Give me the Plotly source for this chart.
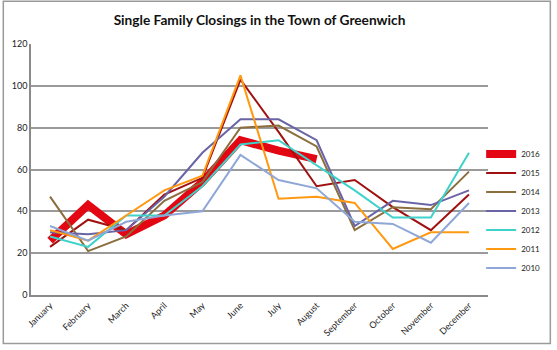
import plotly.graph_objects as go

months = ["January", "February", "March", "April", "May", "June", "July",
          "August", "September", "October", "November", "December"]

y2016 = [26, 43, 29, 38, 54, 74, 69, 65]
y2015 = [23, 36, 31, 48, 56, 103, 78, 52, 55, 42, 31, 48]
y2014 = [47, 21, 28, 45, 54, 80, 81, 71, 31, 42, 41, 59]
y2013 = [30, 29, 31, 47, 68, 84, 84, 74, 33, 45, 43, 50]
y2012 = [28, 23, 38, 38, 52, 72, 74, 62, 50, 37, 37, 68]
y2011 = [31, 26, 38, 50, 57, 105, 46, 47, 44, 22, 30, 30]
y2010 = [33, 26, 35, 38, 40, 67, 55, 51, 35, 34, 25, 44]

series = [
    ("2016", y2016, "#E30613", 8),
    ("2015", y2015, "#A01010", 2),
    ("2014", y2014, "#8C6E3C", 2),
    ("2013", y2013, "#6964A6", 2),
    ("2012", y2012, "#3ED2CB", 2),
    ("2011", y2011, "#FF9912", 2),
    ("2010", y2010, "#8FA7D6", 2),
]

fig = go.Figure()
for name, vals, color, w in series:
    fig.add_trace(go.Scatter(
        x=months[:len(vals)], y=vals, name=name, mode="lines",
        line=dict(color=color, width=w),
    ))

fig.update_layout(
    width=557, height=350,
    margin=dict(l=30, r=65, t=44, b=53),
    paper_bgcolor="white", plot_bgcolor="white",
    title=dict(text="<b>Single Family Closings in the Town of Greenwich</b>",
               x=0.5, xref="paper", xanchor="center", y=0.943, yanchor="middle",
               font=dict(family="Lato", size=13.7, color="#111")),
    font=dict(family="Lato", size=9, color="#222"),
    showlegend=True,
    legend=dict(x=0.985, xanchor="left", y=0.62, yanchor="top",
                font=dict(size=8, color="#222"), tracegroupgap=0,
                bgcolor="rgba(0,0,0,0)", itemwidth=30),
    xaxis=dict(showgrid=False, showline=True, linecolor="#8a8a8a", linewidth=1.5,
               tickangle=-45, ticks="", tickfont=dict(size=9),
               range=[-0.5, 11.5], mirror=False),
    yaxis=dict(range=[0, 120], tickvals=[0, 20, 40, 60, 80, 100, 120],
               showgrid=True, gridcolor="#9a9a9a", gridwidth=1.5,
               showline=True, linecolor="#8a8a8a", linewidth=1.5,
               ticks="", tickfont=dict(size=9), zeroline=False),
    shapes=[dict(type="rect", xref="paper", yref="paper",
                 x0=-0.0606, x1=1.1364, y0=-0.1937, y1=1.17,
                 line=dict(color="#9a9a9a", width=1.5), fillcolor="rgba(0,0,0,0)")],
)

fig.write_html("out.html")
